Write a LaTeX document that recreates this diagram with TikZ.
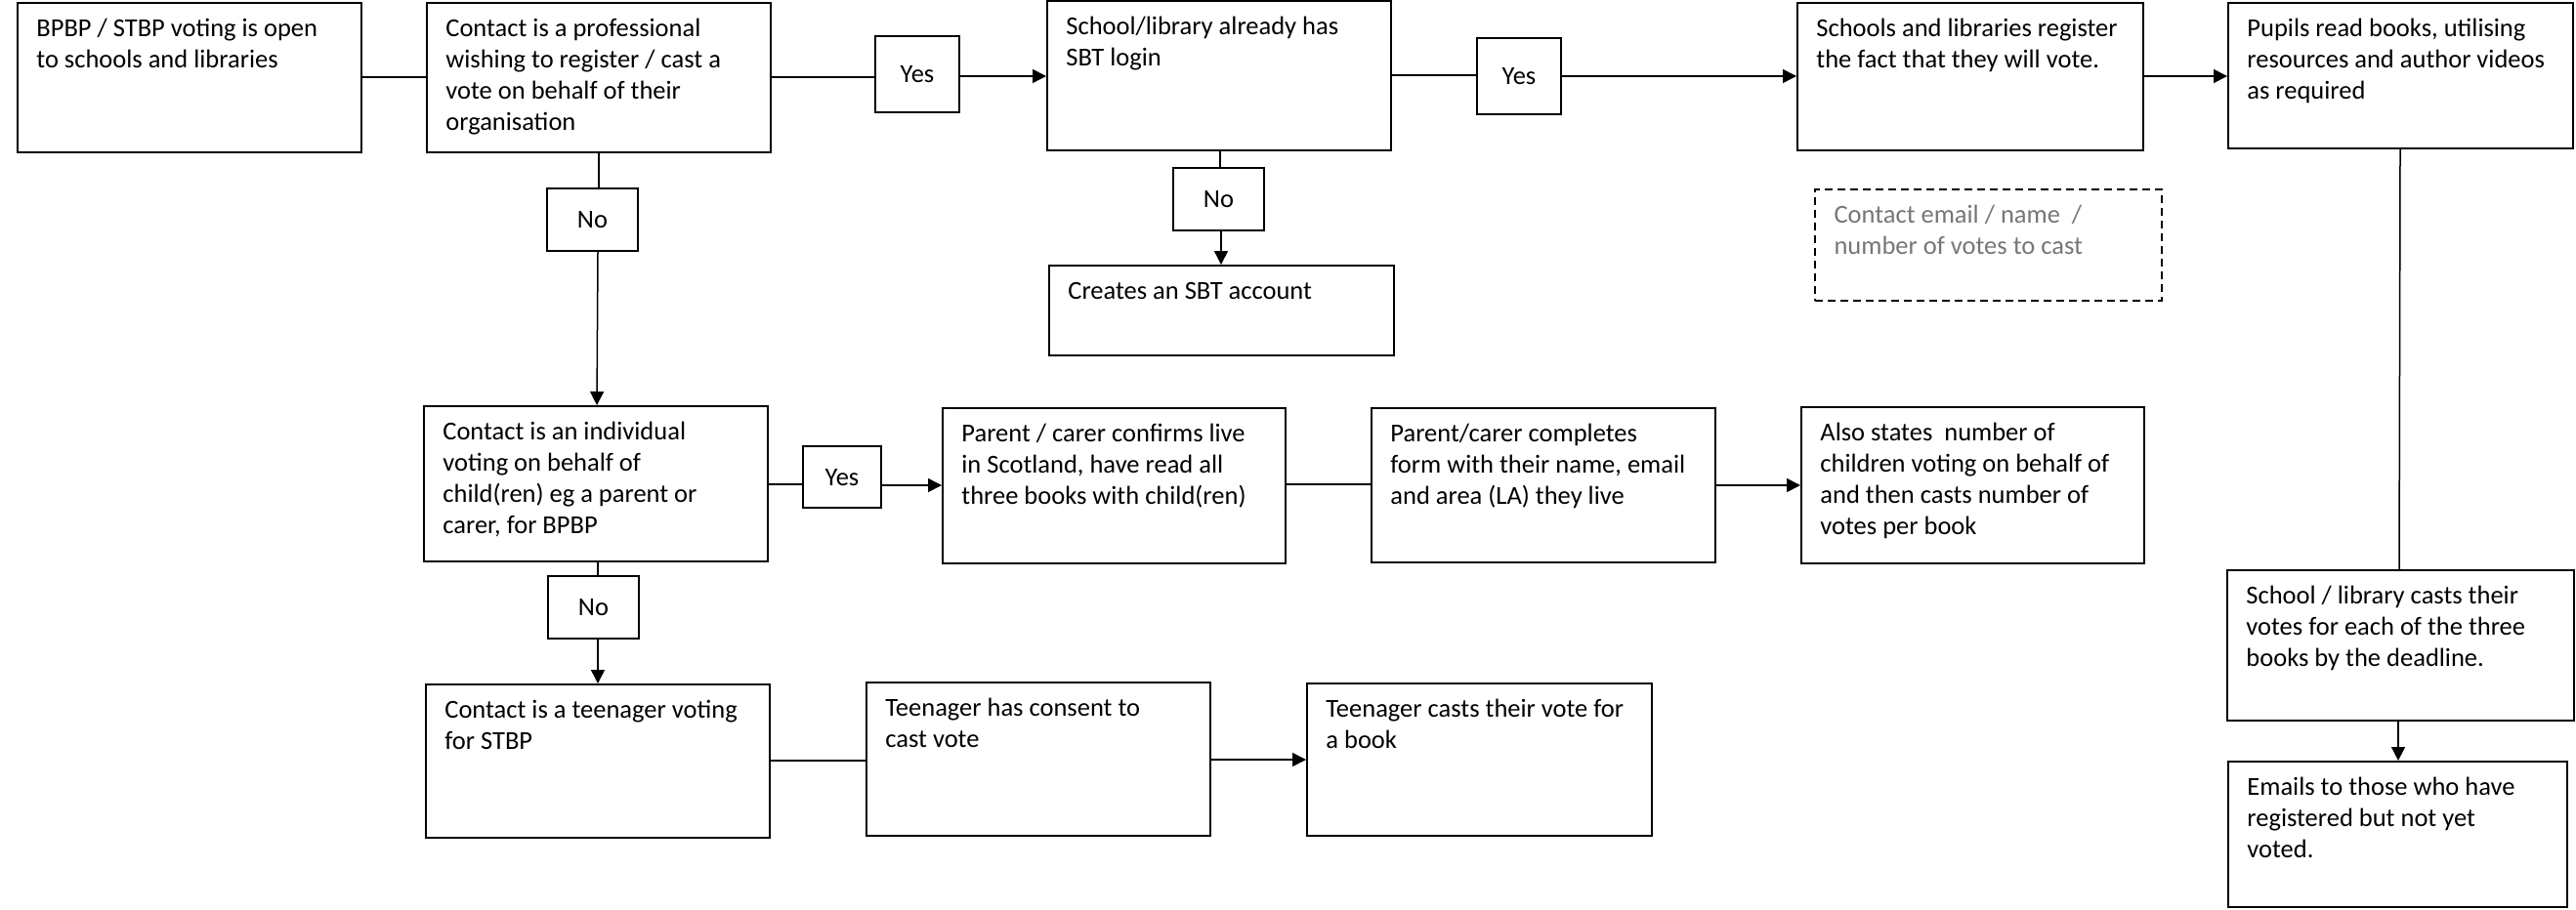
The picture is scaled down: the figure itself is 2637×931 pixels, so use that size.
\documentclass[tikz,border=0pt]{standalone}
\usepackage{fontspec}
\setmainfont{Carlito}
\usetikzlibrary{arrows.meta,fit}
\definecolor{tgray}{RGB}{118,118,118}
\begin{document}
\begin{tikzpicture}[x=0.5pt,y=-0.5pt,
  box/.style={draw, line width=1pt, inner sep=0pt},
  dbox/.style={draw, line width=0.9pt, dash pattern=on 4pt off 2.5pt, inner sep=0pt},
  txt/.style={anchor=north west, inner sep=0pt, align=left, font=\fontsize{13.25pt}{16.1pt}\selectfont},
  lbltxt/.style={anchor=base, inner sep=0pt, font=\fontsize{13.25pt}{16.1pt}\selectfont},
  conn/.style={line width=0.75pt},
  arr/.style={conn, -{Triangle[length=7pt,width=7pt]}},
]
\fill[white] (0,0) rectangle (2637,931);
\useasboundingbox (0,0) rectangle (2637,931);

% main boxes
\node[box, fit={(18,3) (370,156)}] (A) {};
\node[box, fit={(437,3) (789,156)}] (B) {};
\node[box, fit={(1072,1) (1424,154)}] (C) {};
\node[box, fit={(1840,3) (2194,154)}] (D) {};
\node[box, fit={(2281,3) (2634,152)}] (E) {};
\node[box, fit={(1074,272) (1427,364)}] (F) {};
\node[dbox, fit={(1858,194) (2213,308)}] (G) {};
\node[box, fit={(434,416) (786,575)}] (H) {};
\node[box, fit={(965,418) (1316,577)}] (I) {};
\node[box, fit={(1404,418) (1756,576)}] (J) {};
\node[box, fit={(1844,417) (2195,577)}] (K) {};
\node[box, fit={(436,701) (788,858)}] (L) {};
\node[box, fit={(887,699) (1239,856)}] (M) {};
\node[box, fit={(1338,700) (1691,856)}] (N) {};
\node[box, fit={(2280,584) (2635,738)}] (O) {};
\node[box, fit={(2281,780) (2628,929)}] (P) {};

% texts (first baseline 17.5pt below box top)
\node[txt] (At) at ([shift={(10pt,-6.2pt)}]A.north west) {\strut BPBP / STBP voting is open\\to schools and libraries};
\node[txt] (Bt) at ([shift={(10pt,-6.2pt)}]B.north west) {\strut Contact is a professional\\wishing to register / cast a\\vote on behalf of their\\organisation};
\node[txt] (Ct) at ([shift={(10pt,-6.2pt)}]C.north west) {\strut School/library already has\\SBT login};
\node[txt] (Dt) at ([shift={(10pt,-6.2pt)}]D.north west) {\strut Schools and libraries register\\the fact that they will vote.};
\node[txt] (Et) at ([shift={(10pt,-6.2pt)}]E.north west) {\strut Pupils read books, utilising\\resources and author videos\\as required};
\node[txt] (Ft) at ([shift={(10pt,-6.2pt)}]F.north west) {\strut Creates an SBT account};
\node[txt, text=tgray] (Gt) at ([shift={(10pt,-6.2pt)}]G.north west) {\strut Contact email / name~~/\\number of votes to cast};
\node[txt] (Ht) at ([shift={(10pt,-6.2pt)}]H.north west) {\strut Contact is an individual\\voting on behalf of\\child(ren) eg a parent or\\carer, for BPBP};
\node[txt] (It) at ([shift={(10pt,-6.2pt)}]I.north west) {\strut Parent / carer confirms live\\in Scotland, have read all\\three books with child(ren)};
\node[txt] (Jt) at ([shift={(10pt,-6.2pt)}]J.north west) {\strut Parent/carer completes\\form with their name, email\\and area (LA) they live};
\node[txt] (Kt) at ([shift={(10pt,-6.2pt)}]K.north west) {\strut Also states~~number of\\children voting on behalf of\\and then casts number of\\votes per book};
\node[txt] (Lt) at ([shift={(10pt,-6.2pt)}]L.north west) {\strut Contact is a teenager voting\\for STBP};
\node[txt] (Mt) at ([shift={(10pt,-6.2pt)}]M.north west) {\strut Teenager has consent to\\cast vote};
\node[txt] (Nt) at ([shift={(10pt,-6.2pt)}]N.north west) {\strut Teenager casts their vote for\\a book};
\node[txt] (Ot) at ([shift={(10pt,-6.2pt)}]O.north west) {\strut School / library casts their\\votes for each of the three\\books by the deadline.};
\node[txt] (Pt) at ([shift={(10pt,-6.2pt)}]P.north west) {\strut Emails to those who have\\registered but not yet\\voted.};

% yes / no label boxes
\node[box, fit={(896,37) (982,115)}] (y1) {};
\node[box, fit={(1512,39) (1598,117)}] (y2) {};
\node[box, fit={(822,457) (902,520)}] (y3) {};
\node[box, fit={(560,193) (653,257)}] (n1) {};
\node[box, fit={(1201,172) (1294,236)}] (n3) {};
\node[box, fit={(561,590) (654,654)}] (n2) {};
\node[lbltxt] (y1t) at ([yshift=-4.3pt]y1.center) {Yes};
\node[lbltxt] (y2t) at ([yshift=-4.3pt]y2.center) {Yes};
\node[lbltxt] (y3t) at ([yshift=-4.3pt]y3.center) {Yes};
\node[lbltxt] (n1t) at ([yshift=-4.3pt]n1.center) {No};
\node[lbltxt] (n3t) at ([yshift=-4.3pt]n3.center) {No};
\node[lbltxt] (n2t) at ([yshift=-4.3pt]n2.center) {No};

% connectors row 1
\draw[conn] (A.east |- 0,79) -- (B.west |- 0,79);
\draw[conn] (B.east |- 0,79) -- (y1.west |- 0,79);
\draw[arr] (y1.east |- 0,78) -- (C.west |- 0,78);
\draw[conn] (C.east |- 0,77) -- (y2.west |- 0,77);
\draw[arr] (y2.east |- 0,78) -- (D.west |- 0,78);
\draw[arr] (D.east |- 0,78) -- (E.west |- 0,78);
% C -> No -> F
\draw[conn] (C.south -| 1249,0) -- (n3.north -| 1249,0);
\draw[arr] (n3.south -| 1250,0) -- (F.north -| 1250,0);
% B -> No -> H
\draw[conn] (B.south -| 613,0) -- (n1.north -| 613,0);
\draw[arr] (n1.south -| 612,0) -- (H.north -| 611,0);
% row 2
\draw[conn] (H.east |- 0,496) -- (y3.west |- 0,496);
\draw[arr] (y3.east |- 0,497) -- (I.west |- 0,497);
\draw[conn] (I.east |- 0,496) -- (J.west |- 0,496);
\draw[arr] (J.east |- 0,497) -- (K.west |- 0,497);
% H -> No -> L
\draw[conn] (H.south -| 612,0) -- (n2.north -| 612,0);
\draw[arr] (n2.south -| 612,0) -- (L.north -| 612,0);
% row 3
\draw[conn] (L.east |- 0,779) -- (M.west |- 0,779);
\draw[arr] (M.east |- 0,778) -- (N.west |- 0,778);
% right column
\draw[conn] (E.south -| 2457,0) -- (O.north -| 2456,0);
\draw[arr] (O.south -| 2455,0) -- (P.north -| 2455,0);
\end{tikzpicture}
\end{document}
